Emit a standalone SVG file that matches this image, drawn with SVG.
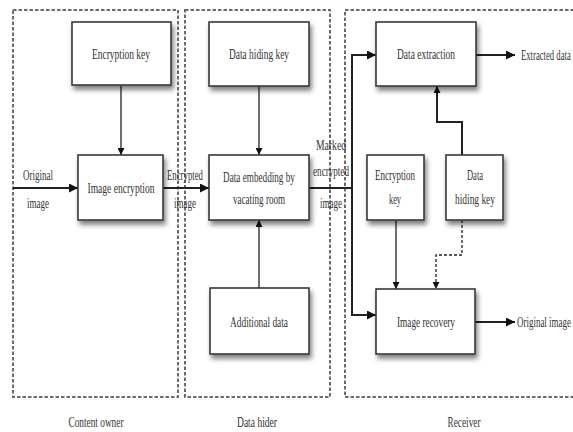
<svg xmlns="http://www.w3.org/2000/svg" width="573" height="432" viewBox="0 0 573 432">
<style>
.grp{fill:none;stroke:#6b6b6b;stroke-width:2;stroke-dasharray:3.5 2}
.box{fill:#fff;stroke:#3a3a3a;stroke-width:1.6;filter:url(#sh)}
.t{font-family:"Liberation Serif","Times New Roman",serif;font-size:14px;fill:#333;text-anchor:middle}
.s{text-anchor:start}
.c{fill:none;stroke:#222;stroke-width:1.3}
.cw{fill:none;stroke:#222;stroke-width:2}
.cd{fill:none;stroke:#222;stroke-width:1.3;stroke-dasharray:3 2}
</style>
<defs>
<filter id="sh" x="-10%" y="-10%" width="130%" height="140%">
<feDropShadow dx="2" dy="4" stdDeviation="2.5" flood-color="#000" flood-opacity="0.5"/>
</filter>
<marker id="ah" viewBox="0 0 10 10" refX="10" refY="5" markerWidth="7" markerHeight="7" markerUnits="userSpaceOnUse" orient="auto">
<path d="M0,0 L10,5 L0,10 z" fill="#111"/>
</marker>
<marker id="ahw" viewBox="0 0 10 10" refX="10" refY="5" markerWidth="9" markerHeight="9" markerUnits="userSpaceOnUse" orient="auto">
<path d="M0,0 L10,5 L0,10 z" fill="#111"/>
</marker>
</defs>
<rect width="573" height="432" fill="#fff"/>

<g id="content-owner">
<rect class="grp" x="13" y="10" width="165" height="387"/>
<text class="t" x="96" y="427" textLength="55" lengthAdjust="spacingAndGlyphs">Content owner</text>
</g>
<g id="data-hider">
<rect class="grp" x="185" y="10" width="145" height="387"/>
<text class="t" x="257" y="427" textLength="40" lengthAdjust="spacingAndGlyphs">Data hider</text>
</g>
<g id="receiver">
<rect class="grp" x="345" y="10" width="240" height="387"/>
<text class="t" x="464" y="427" textLength="33" lengthAdjust="spacingAndGlyphs">Receiver</text>
</g>

<g id="connectors">
<path class="c" d="M121,86 V155" marker-end="url(#ah)"/>
<path class="cw" d="M13,188 H78" marker-end="url(#ahw)"/>
<path class="cw" d="M163,188 H209" marker-end="url(#ahw)"/>
<path class="c" d="M259,86 V155" marker-end="url(#ah)"/>
<path class="c" d="M259,288 V220" marker-end="url(#ah)"/>
<path class="cw" d="M309,188 H352"/>
<path class="cw" d="M352,188 V55 H376" marker-end="url(#ahw)"/>
<path class="cw" d="M352,188 V315 H376" marker-end="url(#ahw)"/>
<path class="cw" d="M476,55 H515" marker-end="url(#ahw)"/>
<path class="cw" d="M462,155 V122 H437 V86" marker-end="url(#ah)"/>
<path class="c" d="M396,220 V289" marker-end="url(#ah)"/>
<path class="cd" d="M462,220 V255 H436 V289" marker-end="url(#ah)"/>
<path class="cw" d="M475,322 H515" marker-end="url(#ahw)"/>
<text class="t" x="38" y="180" textLength="30" lengthAdjust="spacingAndGlyphs">Original</text>
<text class="t" x="38" y="208" textLength="22" lengthAdjust="spacingAndGlyphs">image</text>
<text class="t" x="185" y="180" textLength="36" lengthAdjust="spacingAndGlyphs">Encrypted</text>
<text class="t" x="185" y="208" textLength="22" lengthAdjust="spacingAndGlyphs">image</text>
<text class="t" transform="translate(331,150) scale(0.69,1)">Marked</text>
<text class="t" transform="translate(331,176) scale(0.65,1)">encrypted</text>
<text class="t" transform="translate(331,208) scale(0.64,1)">image</text>
<text class="t s" transform="translate(521,60) scale(0.62,1)">Extracted data</text>
<text class="t s" transform="translate(517,327) scale(0.64,1)">Original image</text>
</g>

<g id="encryption-key">
<rect class="box" x="72" y="22" width="99" height="63"/>
<text class="t" x="121" y="59" textLength="58" lengthAdjust="spacingAndGlyphs">Encryption key</text>
</g>
<g id="image-encryption">
<rect class="box" x="78" y="155" width="85" height="65"/>
<text class="t" x="121" y="193" textLength="67" lengthAdjust="spacingAndGlyphs">Image encryption</text>
</g>
<g id="data-hiding-key">
<rect class="box" x="209" y="22" width="100" height="64"/>
<text class="t" x="259" y="59" textLength="60" lengthAdjust="spacingAndGlyphs">Data hiding key</text>
</g>
<g id="data-embedding">
<rect class="box" x="209" y="155" width="100" height="65"/>
<text class="t" transform="translate(259,182) scale(0.655,1)">Data embedding by</text>
<text class="t" x="259" y="204" textLength="52" lengthAdjust="spacingAndGlyphs">vacating room</text>
</g>
<g id="additional-data">
<rect class="box" x="210" y="288" width="99" height="66"/>
<text class="t" x="259" y="327" textLength="58" lengthAdjust="spacingAndGlyphs">Additional data</text>
</g>
<g id="data-extraction">
<rect class="box" x="376" y="22" width="100" height="64"/>
<text class="t" x="426" y="59" textLength="58" lengthAdjust="spacingAndGlyphs">Data extraction</text>
</g>
<g id="receiver-encryption-key">
<rect class="box" x="367" y="155" width="57" height="65"/>
<text class="t" x="395" y="180" textLength="40" lengthAdjust="spacingAndGlyphs">Encryption</text>
<text class="t" x="395" y="204" textLength="12" lengthAdjust="spacingAndGlyphs">key</text>
</g>
<g id="receiver-data-hiding-key">
<rect class="box" x="446" y="155" width="57" height="65"/>
<text class="t" x="475" y="180" textLength="16" lengthAdjust="spacingAndGlyphs">Data</text>
<text class="t" x="475" y="204" textLength="40" lengthAdjust="spacingAndGlyphs">hiding key</text>
</g>
<g id="image-recovery">
<rect class="box" x="376" y="289" width="99" height="65"/>
<text class="t" x="426" y="327" textLength="58" lengthAdjust="spacingAndGlyphs">Image recovery</text>
</g>
</svg>
